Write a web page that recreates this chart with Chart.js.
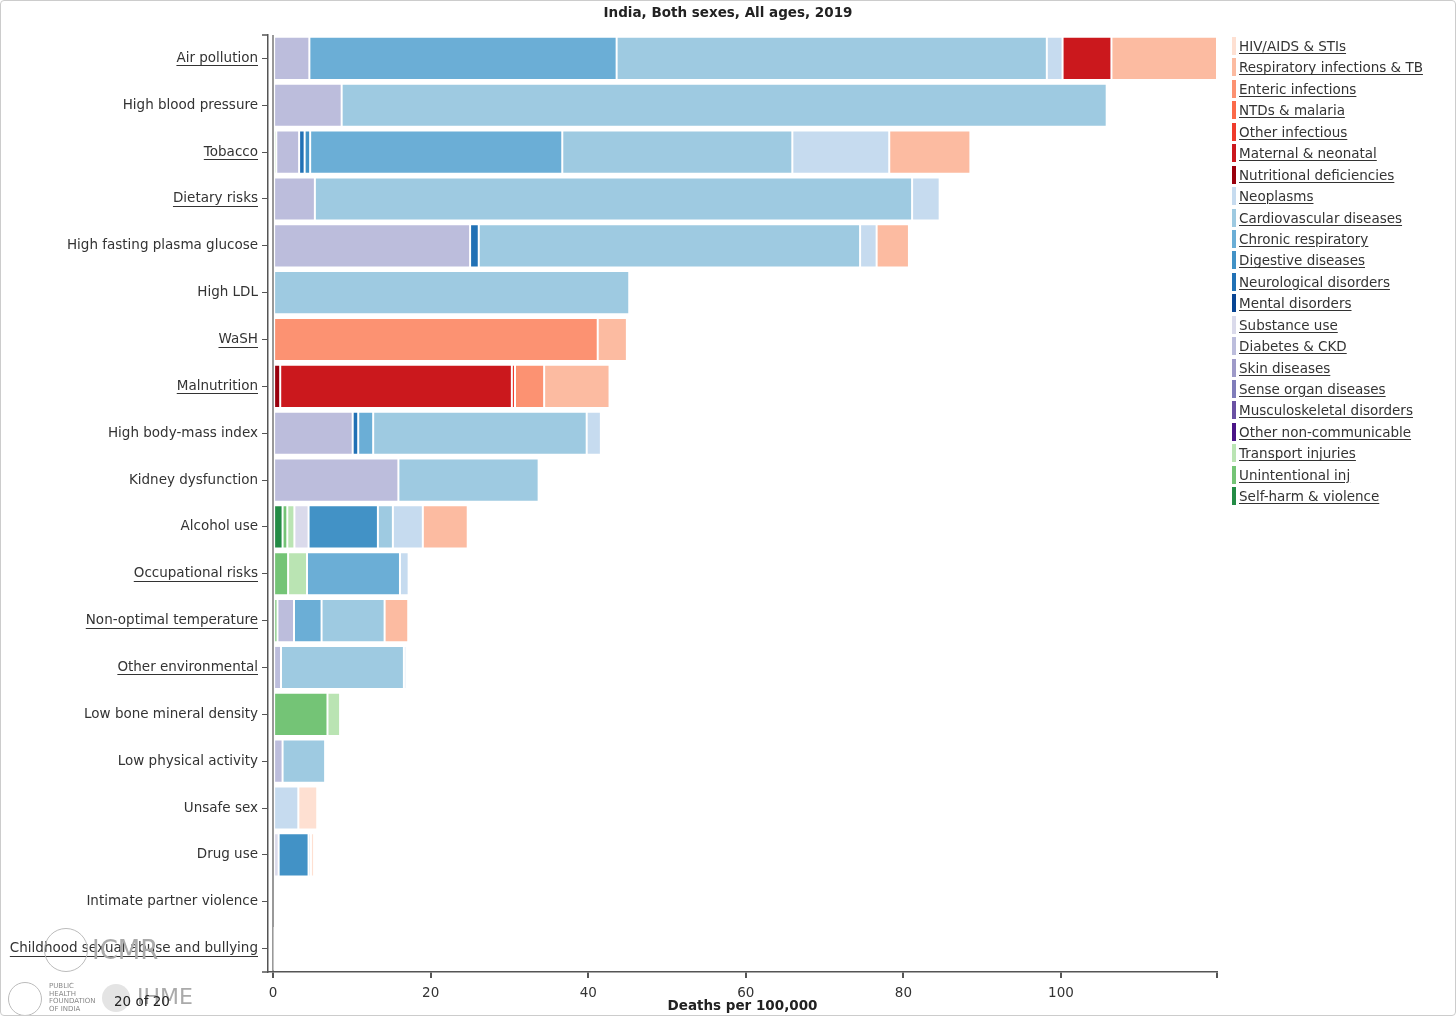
<!DOCTYPE html>
<html>
<head>
<meta charset="utf-8">
<script src="https://cdn.jsdelivr.net/npm/chart.js@4.4.1/dist/chart.umd.min.js"></script>
<style>
    body { margin: 0; background: #fff; font-family: "DejaVu Sans", sans-serif; }
    #wrap { position: absolute; left: 0; top: 0; width: 1456px; height: 1016px; }
    #frame { position: absolute; left: 0; top: 0; width: 1456px; height: 1016px; box-sizing: border-box;
             border: 1px solid #ccc; border-radius: 4px; pointer-events: none; }
    #title { position: absolute; left: 0; top: 4px; width: 1456px; text-align: center;
             font-size: 13.5px; font-weight: bold; color: #222; }
    #legend { position: absolute; left: 1232px; top: 37px; }
    .item { height: 21.45px; display: flex; align-items: flex-start; }
    .swatch { width: 4px; height: 18px; margin-right: 3px; }
    .name { font-size: 13.5px; line-height: 18px; color: #333; text-decoration: underline; text-underline-offset: 2px; white-space: nowrap; }
    .logo { position: absolute; color: #aaa; white-space: nowrap; }
</style>
</head>
<body>
<div id="wrap"><canvas id="myChart"></canvas></div>
<div id="title">India, Both sexes, All ages, 2019</div>
<div id="legend"></div>

<div class="logo" style="left:44px;top:928px;width:42px;height:42px;border:1px solid #bbb;border-radius:50%;"></div>
<div class="logo" style="left:92px;top:935px;font-size:26px;">ICMR</div>
<div class="logo" style="left:8px;top:982px;width:32px;height:32px;border:1px solid #bbb;border-radius:50%;"></div>
<div class="logo" style="left:49px;top:983px;font-size:7px;line-height:7.5px;color:#888;">PUBLIC<br>HEALTH<br>FOUNDATION<br>OF INDIA</div>
<div class="logo" style="left:102px;top:984px;width:28px;height:28px;background:#e4e4e4;border-radius:50%;"></div>
<div class="logo" style="left:137px;top:984px;font-size:22px;">IHME</div>
<div class="logo" style="left:114px;top:993px;font-size:13.5px;color:#222;">20 of 20</div>
<div id="frame"></div>

<script>
const riskFactors = [
    "Air pollution", "High blood pressure", "Tobacco", "Dietary risks",
    "High fasting plasma glucose", "High LDL", "WaSH", "Malnutrition",
    "High body-mass index", "Kidney dysfunction", "Alcohol use", "Occupational risks",
    "Non-optimal temperature", "Other environmental", "Low bone mineral density",
    "Low physical activity", "Unsafe sex", "Drug use", "Intimate partner violence",
    "Childhood sexual abuse and bullying",
];
const underlined = [
    "Air pollution", "Tobacco", "Dietary risks", "WaSH", "Malnutrition",
    "Occupational risks", "Non-optimal temperature", "Other environmental",
    "Childhood sexual abuse and bullying",
];
const xTicks = [0, 20, 40, 60, 80, 100, 119.8];

// deaths per 100,000, one value per risk factor (same order as riskFactors)
const hivSti          = [0, 0, 0, 0, 0, 0, 0, 0, 0, 0, 0, 0, 0, 0, 0, 0, 2.4, 0.4, 0, 0];
const respInfTb       = [13.4, 0, 10.3, 0, 4.1, 0, 3.7, 8.3, 0, 0, 5.7, 0, 3.0, 0, 0, 0, 0, 0, 0, 0];
const enteric         = [0, 0, 0, 0, 0, 0, 41.2, 3.7, 0, 0, 0, 0, 0, 0, 0, 0, 0, 0, 0, 0];
const ntdsMalaria     = [0, 0, 0, 0, 0, 0, 0, 0, 0, 0, 0, 0, 0, 0, 0, 0, 0, 0, 0, 0];
const otherInfectious = [0, 0, 0, 0, 0, 0, 0, 0.4, 0, 0, 0, 0, 0, 0, 0, 0, 0, 0, 0, 0];
const maternal        = [6.2, 0, 0, 0, 0, 0, 0, 29.4, 0, 0, 0, 0, 0, 0, 0, 0, 0, 0, 0, 0];
const nutritional     = [0, 0, 0, 0, 0, 0, 0, 0.9, 0, 0, 0, 0, 0, 0, 0, 0, 0, 0, 0, 0];
const neoplasms       = [2.0, 0, 12.3, 3.5, 2.1, 0, 0, 0, 1.8, 0, 3.8, 1.1, 0, 0.3, 0, 0.25, 3.2, 0.3, 0, 0];
const cardiovascular  = [54.6, 97.1, 29.2, 75.8, 48.4, 45.2, 0, 0, 27.1, 17.8, 1.9, 0, 8.0, 15.6, 0, 5.4, 0, 0, 0, 0];
const chronicResp     = [39.0, 0, 32.0, 0, 0, 0, 0, 0, 1.9, 0, 0, 11.8, 3.5, 0, 0, 0, 0, 0, 0, 0];
const digestive       = [0, 0, 0.7, 0, 0, 0, 0, 0, 0, 0, 8.8, 0, 0, 0, 0, 0, 0, 3.8, 0, 0];
const neurological    = [0, 0, 0.7, 0, 1.1, 0, 0, 0, 0.7, 0, 0, 0, 0, 0, 0, 0, 0, 0, 0, 0];
const mental          = [0, 0, 0, 0, 0, 0, 0, 0, 0, 0, 0, 0, 0, 0, 0, 0, 0, 0, 0, 0];
const substanceUse    = [0, 0, 0, 0, 0, 0, 0, 0, 0, 0, 1.8, 0, 0, 0, 0, 0, 0, 0.7, 0, 0];
const diabetesCkd     = [4.6, 8.7, 2.9, 5.3, 25.0, 0, 0, 0, 10.1, 15.9, 0, 0, 2.1, 1.0, 0, 1.2, 0, 0, 0, 0];
const skin            = [0, 0, 0, 0, 0, 0, 0, 0, 0, 0, 0, 0, 0, 0, 0, 0, 0, 0, 0, 0];
const senseOrgan      = [0, 0, 0, 0, 0, 0, 0, 0, 0, 0, 0, 0, 0, 0, 0, 0, 0, 0, 0, 0];
const musculoskeletal = [0, 0, 0, 0, 0, 0, 0, 0, 0, 0, 0, 0, 0, 0, 0, 0, 0, 0, 0, 0];
const otherNcd        = [0, 0, 0, 0, 0, 0, 0, 0, 0, 0, 0, 0, 0, 0, 0, 0, 0, 0, 0, 0];
const transport       = [0, 0, 0, 0, 0, 0, 0, 0, 0, 0, 0.9, 2.4, 0, 0, 1.6, 0, 0, 0, 0, 0];
const unintentional   = [0, 0, 0.4, 0, 0, 0, 0, 0, 0, 0, 0.6, 1.9, 0.4, 0, 6.9, 0, 0, 0, 0, 0];
const selfHarm        = [0, 0, 0, 0, 0, 0, 0, 0, 0, 0, 1.2, 0, 0.15, 0, 0, 0, 0, 0, 0.2, 0.03];

// legend order (top to bottom)
const causes = [
    "HIV/AIDS & STIs", "Respiratory infections & TB", "Enteric infections", "NTDs & malaria",
    "Other infectious", "Maternal & neonatal", "Nutritional deficiencies", "Neoplasms",
    "Cardiovascular diseases", "Chronic respiratory", "Digestive diseases", "Neurological disorders",
    "Mental disorders", "Substance use", "Diabetes & CKD", "Skin diseases", "Sense organ diseases",
    "Musculoskeletal disorders", "Other non-communicable", "Transport injuries", "Unintentional inj",
    "Self-harm & violence",
];
const causeValues = [
    hivSti, respInfTb, enteric, ntdsMalaria, otherInfectious, maternal, nutritional, neoplasms,
    cardiovascular, chronicResp, digestive, neurological, mental, substanceUse, diabetesCkd, skin,
    senseOrgan, musculoskeletal, otherNcd, transport, unintentional, selfHarm,
];
const causeColors = [
    "#fee0d2", "#fcbba1", "#fc9272", "#fb6a4a", "#ef3b2c", "#cb181d", "#99000d", "#c6dbef",
    "#9ecae1", "#6baed6", "#4292c6", "#2171b5", "#084594", "#dadaeb", "#bcbddc", "#9e9ac8",
    "#807dba", "#6a51a3", "#4a1486", "#bae4b3", "#74c476", "#238b45",
];

const buildLegend = () => {
    const box = document.getElementById("legend");
    causes.forEach((name, i) => {
        const item = document.createElement("div");
        item.className = "item";
        item.innerHTML = '<span class="swatch" style="background:' + causeColors[i] + '"></span>' +
            '<span class="name">' + name.replace(/&/g, "&amp;") + "</span>";
        box.appendChild(item);
    });
};

// underlines for grouped risk labels and d3-like outer ticks on the y axis
const axisExtras = {
    id: "axisExtras",
    afterDraw(chart) {
        const { ctx, chartArea } = chart;
        const yScale = chart.scales.y;
        ctx.save();
        ctx.strokeStyle = "#555";
        ctx.lineWidth = 1.5;
        ctx.beginPath();
        ctx.moveTo(chartArea.left - 6, chartArea.top);
        ctx.lineTo(chartArea.left, chartArea.top);
        ctx.moveTo(chartArea.left - 6, chartArea.bottom);
        ctx.lineTo(chartArea.left, chartArea.bottom);
        ctx.stroke();

        ctx.font = '13.5px "DejaVu Sans"';
        ctx.strokeStyle = "#333";
        ctx.lineWidth = 1;
        const right = chartArea.left - 6 - 4;
        riskFactors.forEach((name, i) => {
            if (!underlined.includes(name)) return;
            const w = ctx.measureText(name).width;
            const py = Math.round(yScale.getPixelForTick(i) + 7) + 0.5;
            ctx.beginPath();
            ctx.moveTo(right - w, py);
            ctx.lineTo(right, py);
            ctx.stroke();
        });
        ctx.restore();
    },
};

const renderChart = () => {
    Chart.defaults.font.family = '"DejaVu Sans", sans-serif';
    Chart.defaults.font.size = 13.5;
    Chart.defaults.color = "#333";

    // stacks start from the bottom of the legend
    const datasets = causes.map((name, i) => ({
        label: name,
        data: causeValues[i],
        backgroundColor: causeColors[i],
        borderColor: "#fff",
        borderWidth: 1,
        borderSkipped: false,
        barPercentage: 0.92,
        categoryPercentage: 1,
    })).reverse();

    new Chart(document.getElementById("myChart"), {
        type: "bar",
        data: { labels: riskFactors, datasets: datasets },
        options: {
            indexAxis: "y",
            responsive: true,
            maintainAspectRatio: false,
            animation: false,
            layout: { padding: { left: 0, right: 239, top: 35, bottom: 0 } },
            scales: {
                x: {
                    stacked: true,
                    min: -0.65,
                    max: 119.8,
                    afterBuildTicks: (s) => { s.ticks = xTicks.map((v) => ({ value: v })); },
                    afterFit: (s) => { s.height = 44; },
                    ticks: {
                        color: "#333",
                        padding: 9,
                        font: { lineHeight: 1 },
                        callback: (v) => (v > 100 ? "" : v),
                    },
                    grid: {
                        color: (c) => (c.tick && c.tick.value === 0 ? "#999" : "rgba(0,0,0,0)"),
                        lineWidth: 2,
                        tickColor: "#555",
                        tickLength: 6,
                    },
                    border: { display: true, color: "#555", width: 1.5 },
                    title: {
                        display: true,
                        text: "Deaths per 100,000",
                        color: "#222",
                        font: { weight: "bold", size: 13.5, lineHeight: 1 },
                        padding: { top: 0, bottom: 3 },
                    },
                },
                y: {
                    stacked: true,
                    afterFit: (s) => { s.width = 268; },
                    ticks: { color: "#333", padding: 4, autoSkip: false },
                    grid: { drawOnChartArea: false, offset: false, tickLength: 6, tickColor: "#555" },
                    border: { display: true, color: "#555", width: 1.5 },
                },
            },
            plugins: {
                legend: { display: false },
                title: { display: false },
            },
        },
        plugins: [axisExtras],
    });
};

buildLegend();
renderChart();
</script>
</body>
</html>
